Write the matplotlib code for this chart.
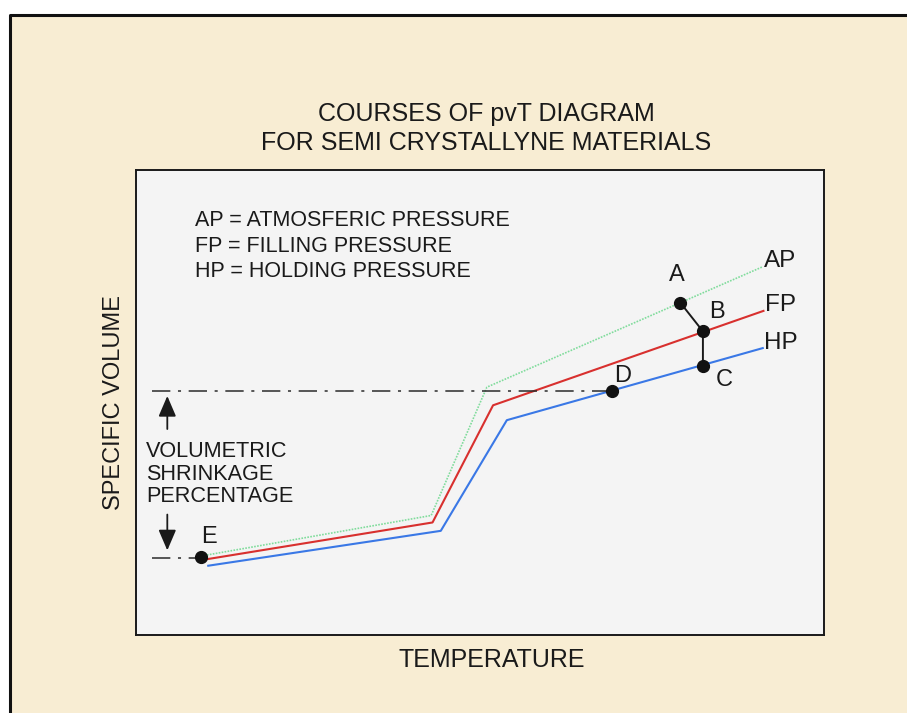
import matplotlib.pyplot as plt
from matplotlib.patches import Rectangle
from matplotlib.lines import Line2D

# pvT courses, temperature / specific volume in arbitrary units (0-100)
temp_ap = [10.3, 42.9, 51.0, 91.1]
vol_ap = [17.2, 25.7, 53.3, 79.2]
temp_fp = [10.3, 43.1, 51.9, 91.2]
vol_fp = [16.3, 24.2, 49.4, 69.7]
temp_hp = [10.5, 44.3, 53.9, 91.1]
vol_hp = [14.9, 22.4, 46.2, 61.7]

# process points
pt_names = ['A', 'B', 'C', 'D', 'E']
pt_temp = [79.1, 82.4, 82.4, 69.2, 9.5]
pt_vol = [71.5, 65.3, 57.9, 52.4, 16.8]

legend_lines = ['AP = ATMOSFERIC PRESSURE', 'FP = FILLING PRESSURE', 'HP = HOLDING PRESSURE']
curve_names = ['AP', 'FP', 'HP']

plt.rcParams['font.family'] = ['Liberation Sans', 'DejaVu Sans']

fig = plt.figure(figsize=(9.07, 7.13), dpi=100)
fig.patch.set_facecolor('white')

# cream card with black top/left edge
fig.patches.append(Rectangle((10/907, 0), 1, (713-15)/713, transform=fig.transFigure,
                             facecolor='#f8edd3', edgecolor='none', zorder=-5))
fig.lines.append(Line2D([10/907, 10/907, 1], [0, (713-15)/713, (713-15)/713],
                        transform=fig.transFigure, color='#111111', lw=2.2, zorder=-4))

fig.text(486/907, 1-114/713, 'COURSES OF pvT DIAGRAM', ha='center', va='center', fontsize=18, color='#1a1a1a')
fig.text(486/907, 1-143/713, 'FOR SEMI CRYSTALLYNE MATERIALS', ha='center', va='center', fontsize=18, color='#1a1a1a')
fig.text(492/907, 1-660/713, 'TEMPERATURE', ha='center', va='center', fontsize=18, color='#1a1a1a')

ax = fig.add_axes([136/907, (713-635)/713, (824-136)/907, (635-170)/713])
ax.set_zorder(2)
ax.set_facecolor('#f4f4f4')
ax.set_xlim(0, 100)
ax.set_ylim(0, 100)
ax.set_xticks([])
ax.set_yticks([])
for s in ax.spines.values():
    s.set_linewidth(1.4)
    s.set_color('#1a1a1a')

ax.set_ylabel('SPECIFIC VOLUME', fontsize=17, color='#1a1a1a', labelpad=8)

# curves
ax.plot(temp_ap, vol_ap, color='#80dc9c', lw=1.2, linestyle=(0, (1, 0.8)))
ax.plot(temp_fp, vol_fp, color='#d8302e', lw=1.5)
ax.plot(temp_hp, vol_hp, color='#3a78e6', lw=1.5)

# A-B-C connectors
ax.plot(pt_temp[:3], pt_vol[:3], color='#1a1a1a', lw=1.4)

# dash-dot reference levels (D and E)
dd = dict(color='#2a2a2a', lw=1.1, dashes=(12, 5, 2, 5))
ax.plot([2.3, pt_temp[3]], [pt_vol[3], pt_vol[3]], **dd)
ax.plot([2.3, pt_temp[4]], [pt_vol[4] - 0.3, pt_vol[4] - 0.3], **dd)

ax.plot(pt_temp, pt_vol, 'o', color='#111111', ms=8.5, zorder=5)

# shrinkage arrows
ap = dict(arrowstyle='-|>,head_length=0.7,head_width=0.3', color='#1a1a1a', lw=1.3, mutation_scale=18)
ax.annotate('', xy=(4.55, 52.0), xytext=(4.55, 43.7), arrowprops=ap)
ax.annotate('', xy=(4.55, 17.6), xytext=(4.55, 26.5), arrowprops=ap)
ax.text(1.45, 34.6, 'VOLUMETRIC\nSHRINKAGE\nPERCENTAGE', ha='left', va='center',
        fontsize=15.6, color='#1a1a1a', linespacing=1.1)

# key text
for i, t in enumerate(legend_lines):
    ax.text(8.6, 89.2 - i*5.55, t, ha='left', va='center', fontsize=15.5, color='#1a1a1a')

# curve end labels
for name, xs, ys in zip(curve_names, [temp_ap, temp_fp, temp_hp], [vol_ap, vol_fp, vol_hp]):
    ax.text(xs[-1] + 0.2, ys[-1] + 1.2, name, ha='left', va='center', fontsize=17.5, color='#1a1a1a')

# point labels
lab_off = [(-0.5, 6.0), (2.0, 4.2), (3.1, -3.1), (1.5, 3.2), (1.1, 4.2)]
for n, x, y, (dx, dy) in zip(pt_names, pt_temp, pt_vol, lab_off):
    ax.text(x + dx, y + dy, n, ha='center', va='center', fontsize=17, color='#1a1a1a')

fig.savefig('out.png', dpi=100, facecolor=fig.get_facecolor())
